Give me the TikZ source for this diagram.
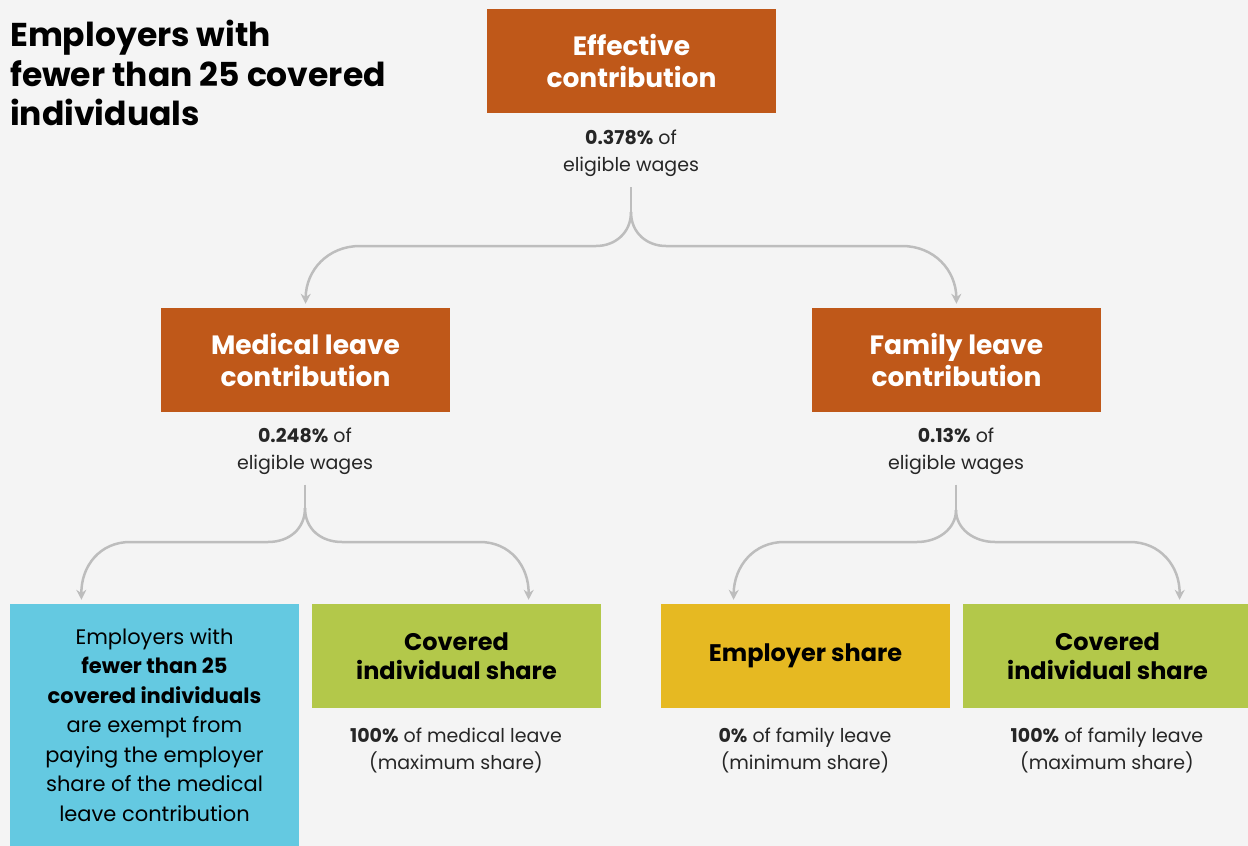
\documentclass[tikz,border=0pt]{standalone}
\usepackage{fontspec}
\setmainfont{Poppins}
\usetikzlibrary{arrows.meta}

\definecolor{bgGrey}{HTML}{F4F4F4}
\definecolor{rust}{HTML}{BF5819}
\definecolor{skyBlue}{HTML}{64C9E1}
\definecolor{limeGreen}{HTML}{B3C84A}
\definecolor{mustard}{HTML}{E6B922}
\definecolor{linkGrey}{HTML}{BDBDBD}

\tikzset{
  box/.style={minimum width=289pt, minimum height=104pt, inner sep=0pt,
    align=center, font=\bfseries\fontsize{24}{29}\selectfont},
  topbox/.style={box, fill=rust, text=white,
    font=\bfseries\fontsize{26.5}{32}\selectfont},
  note/.style={align=center, inner sep=0pt, text=black!85,
    font=\fontsize{19}{27}\selectfont},
  stem/.style={draw=linkGrey, line width=2.5pt, shorten <=10pt},
  link/.style={draw=linkGrey, line width=2.5pt,
    -{Stealth[length=10pt,width=10pt]}, shorten >=4pt},
}

\begin{document}
\begin{tikzpicture}[x=1pt,y=-1pt]
        \useasboundingbox[fill=bgGrey] (0,0) rectangle (1248,846);

        % title
        \node[anchor=north west, align=left, inner sep=0pt,
            font=\bfseries\fontsize{33}{39.5}\selectfont] (title) at (10,20)
            {Employers with\\fewer than 25 covered\\individuals};

        % top level
        \node[topbox] (eff) at (631.5,61) {Effective\\contribution};
        \node[note] (effnote) at (631,153.5) {\textbf{0.378\%} of\\eligible wages};

        % second level
        \node[topbox] (med) at (305.5,360) {Medical leave\\contribution};
        \node[note] (mednote) at (305,451) {\textbf{0.248\%} of\\eligible wages};
        \node[topbox] (fam) at (956.5,360) {Family leave\\contribution};
        \node[note] (famnote) at (956,451) {\textbf{0.13\%} of\\eligible wages};

        % shares
        \node[box, fill=skyBlue, minimum height=242pt,
            font=\fontsize{21}{29.5}\selectfont] (exempt) at (154.5,725)
            {Employers with\\\textbf{fewer than 25}\\\textbf{covered individuals}\\are exempt from\\paying the employer\\share of the medical\\leave contribution};
        \node[box, fill=limeGreen] (covmed) at (456.5,656) {Covered\\individual share};
        \node[note] (covmednote) at (456,750.5) {\textbf{100\%} of medical leave\\(maximum share)};
        \node[box, fill=mustard] (empsh) at (805.5,656) {Employer share};
        \node[note] (empshnote) at (805,750.5) {\textbf{0\%} of family leave\\(minimum share)};
        \node[box, fill=limeGreen] (covfam) at (1107.5,656) {Covered\\individual share};
        \node[note] (covfamnote) at (1107,750.5) {\textbf{100\%} of family leave\\(maximum share)};

        % forks
        \coordinate (effork) at (631,212);
        \coordinate (medfork) at (305,508);
        \coordinate (famfork) at (956,510);

        \draw[stem] (effnote.south) -- (effork);
        \draw[link] (effork) .. controls (631,233) and (615,246) .. (596,246)
            -- (360,246) .. controls (328,246) and (306,270) .. (med.north);
        \draw[link] (effork) .. controls (631,233) and (647,246) .. (666,246)
            -- (902,246) .. controls (934,246) and (956,270) .. (fam.north);

        \draw[stem] (mednote.south) -- (medfork);
        \draw[link] (medfork) .. controls (305,529) and (289,542) .. (268,542)
            -- (130,542) .. controls (100,542) and (81,566) .. ([xshift=-73pt]exempt.north);
        \draw[link] (medfork) .. controls (305,529) and (321,542) .. (342,542)
            -- (480,542) .. controls (510,542) and (529,566) .. ([xshift=72pt]covmed.north);

        \draw[stem] (famnote.south) -- (famfork);
        \draw[link] (famfork) .. controls (956,529) and (938,542) .. (917,542)
            -- (784,542) .. controls (754,542) and (734,566) .. ([xshift=-72pt]empsh.north);
        \draw[link] (famfork) .. controls (956,529) and (974,542) .. (995,542)
            -- (1130,542) .. controls (1160,542) and (1180,566) .. ([xshift=72pt]covfam.north);
\end{tikzpicture}
\end{document}
